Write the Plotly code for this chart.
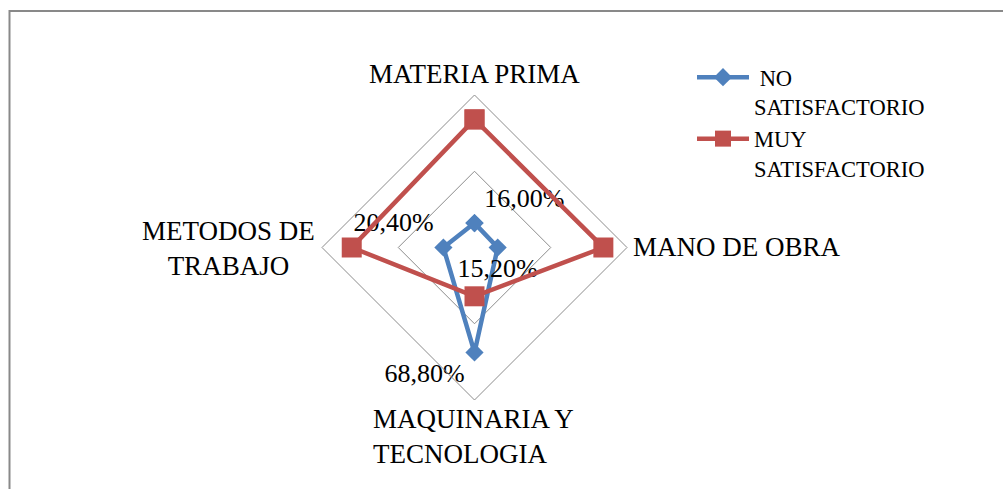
import plotly.graph_objects as go

categories = ["MATERIA PRIMA", "MANO DE OBRA", "MAQUINARIA Y TECNOLOGIA", "METODOS DE TRABAJO"]
no_satisfactorio = [0.160, 0.152, 0.688, 0.204]
muy_satisfactorio = [0.84, 0.845, 0.32, 0.805]
no_labels = ["16,00%", "15,20%", "68,80%", "20,40%"]
label_positions = ["top right", "bottom center", "bottom left", "top left"]
series_names = ["\u00a0NO<br>SATISFACTORIO", "MUY<br>SATISFACTORIO"]

FONT = "Liberation Serif"
BLUE = "#4F81BD"
RED = "#C0504D"
GRID = "#8C8C8C"
W, H = 1003, 489

fig = go.Figure()

fig.add_trace(go.Scatterpolar(
    r=no_satisfactorio + [no_satisfactorio[0]],
    theta=categories + [categories[0]],
    mode="lines+markers+text",
    name=series_names[0],
    text=no_labels + [""],
    textposition=label_positions + ["top right"],
    textfont=dict(family=FONT, size=26, color="black"),
    line=dict(color=BLUE, width=4.5),
    marker=dict(symbol="diamond", size=14, color=BLUE),
    cliponaxis=False,
))
fig.add_trace(go.Scatterpolar(
    r=muy_satisfactorio + [muy_satisfactorio[0]],
    theta=categories + [categories[0]],
    mode="lines+markers",
    name=series_names[1],
    line=dict(color=RED, width=4.5),
    marker=dict(symbol="square", size=20, color=RED),
    cliponaxis=False,
))

fig.update_layout(
    width=W, height=H,
    margin=dict(l=0, r=0, t=0, b=0),
    paper_bgcolor="white",
    plot_bgcolor="white",
    font=dict(family=FONT, size=26, color="black"),
    polar=dict(
        domain=dict(x=[322 / W, 627 / W], y=[(H - 400) / H, (H - 95) / H]),
        gridshape="linear",
        bgcolor="white",
        radialaxis=dict(range=[0, 1], tickvals=[0.5, 1.0], showticklabels=False,
                        ticks="", showline=False, gridcolor=GRID, gridwidth=1),
        angularaxis=dict(direction="clockwise", rotation=90, showgrid=False,
                         showticklabels=False, ticks="", showline=True,
                         linecolor=GRID, linewidth=1),
    ),
    showlegend=True,
    legend=dict(x=692 / W, y=1 - 56 / H, xanchor="left", yanchor="top",
                font=dict(family=FONT, size=22.5, color="black"),
                valign="top", itemwidth=52, bgcolor="rgba(0,0,0,0)",
                tracegroupgap=0),
)

def ann(text, x, y, xanchor="center", align="center"):
    fig.add_annotation(text=text, x=x / W, y=1 - y / H, xref="paper", yref="paper",
                       xanchor=xanchor, yanchor="middle", showarrow=False, align=align,
                       font=dict(family=FONT, size=27, color="black"))

ann("MATERIA PRIMA", 474, 73.5)
ann("MANO DE OBRA", 631, 247.5, "left")
ann("METODOS DE<br>TRABAJO", 228, 249)
ann("MAQUINARIA Y<br>TECNOLOGIA", 371, 436, "left", "left")

fig.add_shape(type="rect", xref="paper", yref="paper",
              x0=9.5 / W, x1=1.05, y0=-0.05, y1=1 - 11 / H,
              line=dict(color="#898989", width=2), fillcolor="rgba(0,0,0,0)")

fig.write_html("out.html", config={"displayModeBar": False},
               post_script="document.body.style.margin='0';document.body.style.overflow='hidden';")
